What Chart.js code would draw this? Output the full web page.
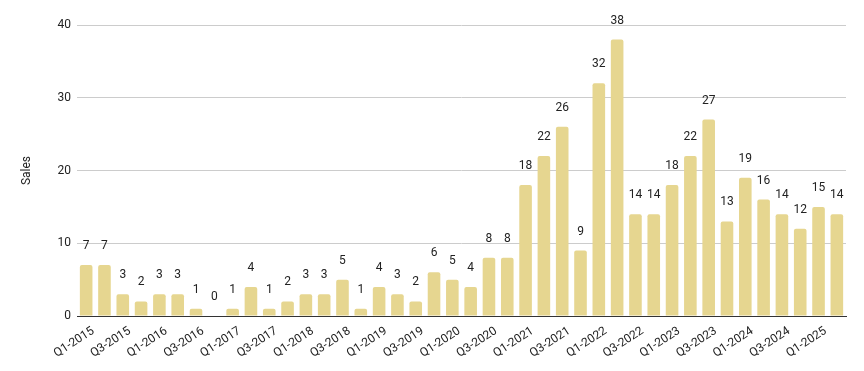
<!DOCTYPE html>
<html>
<head>
<meta charset="utf-8">
<script src="https://cdn.jsdelivr.net/npm/chart.js@4"></script>
<style>
  html, body { margin: 0; padding: 0; background: #fff; }
  #wrap { width: 864px; height: 371px; }
</style>
</head>
<body>
<div id="wrap"><canvas id="salesChart"></canvas></div>
<script>
const quarters = [
  "Q1-2015", "Q2-2015", "Q3-2015", "Q4-2015",
  "Q1-2016", "Q2-2016", "Q3-2016", "Q4-2016",
  "Q1-2017", "Q2-2017", "Q3-2017", "Q4-2017",
  "Q1-2018", "Q2-2018", "Q3-2018", "Q4-2018",
  "Q1-2019", "Q2-2019", "Q3-2019", "Q4-2019",
  "Q1-2020", "Q2-2020", "Q3-2020", "Q4-2020",
  "Q1-2021", "Q2-2021", "Q3-2021", "Q4-2021",
  "Q1-2022", "Q2-2022", "Q3-2022", "Q4-2022",
  "Q1-2023", "Q2-2023", "Q3-2023", "Q4-2023",
  "Q1-2024", "Q2-2024", "Q3-2024", "Q4-2024",
  "Q1-2025", "Q2-2025"
];
const sales = [
  7, 7, 3, 2,
  3, 3, 1, 0,
  1, 4, 1, 2,
  3, 3, 5, 1,
  4, 3, 2, 6,
  5, 4, 8, 8,
  18, 22, 26, 9,
  32, 38, 14, 14,
  18, 22, 27, 13,
  19, 16, 14, 12,
  15, 14
];
const yTicks = [0, 10, 20, 30, 40];

// simple value labels above the bars (no datalabels plugin available)
const barLabels = {
  id: "barLabels",
  afterDatasetsDraw(chart) {
    const ctx = chart.ctx;
    const meta = chart.getDatasetMeta(0);
    ctx.save();
    ctx.font = "12px Roboto";
    ctx.fillStyle = "#222";
    ctx.textAlign = "center";
    ctx.textBaseline = "middle";
    meta.data.forEach((bar, i) => {
      ctx.fillText(String(sales[i]), bar.x, bar.y - 19);
    });
    ctx.restore();
  },
};

const config = {
  type: "bar",
  data: {
    labels: quarters,
    datasets: [
      {
        label: "Sales",
        data: sales,
        backgroundColor: "#e6d690",
        borderRadius: { topLeft: 2, topRight: 2 },
        borderSkipped: "bottom",
        barPercentage: 0.8,
        categoryPercentage: 0.86,
      },
    ],
  },
  options: {
    responsive: true,
    maintainAspectRatio: false,
    animation: false,
    layout: { padding: { left: 0, right: 18, top: 25, bottom: 0 } },
    plugins: {
      legend: { display: false },
      tooltip: { enabled: false },
    },
    scales: {
      x: {
        grid: { display: false, drawTicks: false },
        border: { display: true, color: "#333", width: 1 },
        afterFit(scale) {
          scale.height = 55;
        },
        ticks: {
          autoSkip: false,
          minRotation: 33,
          maxRotation: 33,
          padding: 8,
          labelOffset: 7,
          color: "#222",
          font: { family: "Roboto", size: 12 },
          callback(value, index) {
            return index % 2 === 0 ? quarters[index] : "";
          },
        },
      },
      y: {
        min: 0,
        max: 40,
        afterBuildTicks(scale) {
          scale.ticks = yTicks.map((v) => ({ value: v }));
        },
        afterFit(scale) {
          scale.width = 77;
        },
        grid: { color: "#cccccc", drawTicks: false },
        border: { display: false },
        ticks: {
          padding: 6,
          color: "#222",
          font: { family: "Roboto", size: 12 },
        },
        title: {
          display: true,
          text: "Sales",
          color: "#222",
          font: { family: "Roboto", size: 12 },
          padding: { top: 20, bottom: 0 },
        },
      },
    },
  },
  plugins: [barLabels],
};

const myChart = new Chart(document.getElementById("salesChart"), config);
</script>
</body>
</html>
